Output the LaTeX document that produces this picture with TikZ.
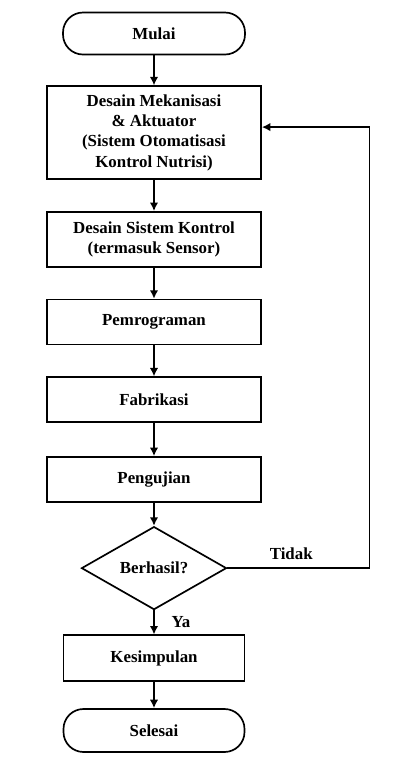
\documentclass[tikz,border=0pt]{standalone}
\usepackage{fontspec}
\setmainfont{Liberation Serif}
\usetikzlibrary{arrows.meta,positioning,shapes.geometric}

\begin{document}
\begin{tikzpicture}[node distance= 0.775cm, line width=1.2pt,
    terminal/.style={draw, rectangle, rounded corners=0.5cm, minimum width=4.55cm, minimum height=1.05cm},
    process/.style={draw, rectangle, minimum width=5.35cm, minimum height=1.125cm},
    decision/.style={draw, diamond, aspect=1.75, inner sep=0pt, minimum width=3.625cm, minimum height=2.075cm}]
      \useasboundingbox (0,0) rectangle (10,-18.95);
      \begin{scope}[every node/.style={font=\bfseries\fontsize{12}{14.5}\selectfont, align=center}]
        \node (S) [terminal] at (3.85,-0.8375) {Mulai};
        \node (M) [process, minimum height=2.325cm] [below= 0.75cm of S]
          {Desain Mekanisasi\\ \& Aktuator\\ (Sistem Otomatisasi\\ Kontrol Nutrisi)};
        \node (K) [process, minimum height=1.375cm] [below= of M]
          {Desain Sistem Kontrol\\ (termasuk Sensor)};
        \node (P) [process] [below= of K] {Pemrograman};
        \node (F) [process] [below= of P] {Fabrikasi};
        \node (U) [process] [below= 0.825cm of F] {Pengujian};
        \node (B) [decision] [below= 0.575cm of U] {Berhasil?};
        \node (C) [process, minimum width=4.525cm, minimum height=1.15cm] [below= 0.6cm of B] {Kesimpulan};
        \node (E) [terminal, minimum width=4.525cm, minimum height=1.075cm] [below= 0.65cm of C] {Selesai};
      \end{scope}
      \begin{scope}
        [every edge/.style={draw= black, -{Latex[length=6pt,width=6pt]}},
        every node/.style={font=\bfseries\fontsize{12}{14.5}\selectfont}]
        \path (S) edge (M);
        \path (M) edge (K);
        \path (K) edge (P);
        \path (P) edge (F);
        \path (F) edge (U);
        \path (U) edge (B);
        \path (B) edge node[right, xshift=0.3cm] {Ya} (C);
        \path (C) edge (E);
        \draw[-{Latex[length=6pt,width=6pt]}] (B.east) -- node[above, pos=0.45, yshift=2pt] {Tidak}
          ++(3.55,0) |- ([yshift=0.14cm]M.east);
      \end{scope}
    \end{tikzpicture}
\end{document}
